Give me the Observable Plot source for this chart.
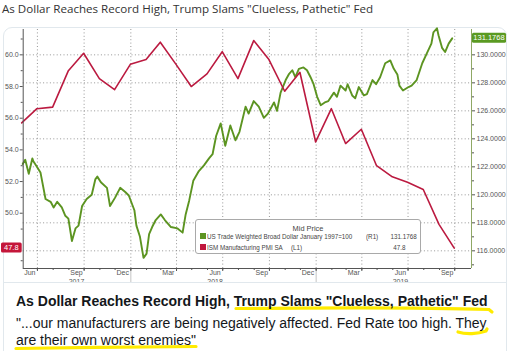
<!DOCTYPE html>
<html><head><meta charset="utf-8">
<script src="https://cdn.jsdelivr.net/npm/d3@7"></script>
<script src="https://cdn.jsdelivr.net/npm/@observablehq/plot@0.6"></script>
<style>
html,body{margin:0;padding:0;background:#fff;}
body{width:511px;height:351px;overflow:hidden;position:relative;font-family:"Liberation Sans",Arial,sans-serif;}
#title{position:absolute;left:2px;top:1px;font:11.6px "Open Sans","Noto Sans",sans-serif;color:#333;white-space:nowrap;}
#card{position:absolute;left:3px;top:27px;width:502px;height:340px;border:1px solid #e1e8ed;border-radius:9px;}
#sep{position:absolute;left:4px;top:282px;width:502px;height:1px;background:#e1e8ed;}
#chart{position:absolute;left:0;top:0;width:511px;height:282px;overflow:hidden;}
#legend{position:absolute;left:195px;top:219px;width:224px;height:33px;border:1px solid #a9a9a9;border-radius:3px;background:#fff;font:7.4px "Liberation Sans",Arial,sans-serif;color:#444;}
#legend span{position:absolute;white-space:nowrap;line-height:8px;transform:scaleX(0.85);transform-origin:left center;}
#legend span.r{transform-origin:right center;}
#legend span.c{transform:none;}
#legend i{position:absolute;width:6px;height:6px;}
#hl{position:absolute;left:0;top:0;}
#head{position:absolute;left:16px;top:293px;font:bold 14px "Liberation Sans",Arial,sans-serif;line-height:16px;color:#14171a;white-space:nowrap;}
#quote{position:absolute;left:16px;top:315px;font:14px "Liberation Sans",Arial,sans-serif;line-height:17px;color:#14171a;white-space:nowrap;}
</style></head>
<body>
<div id="title">As Dollar Reaches Record High, Trump Slams "Clueless, Pathetic" Fed</div>
<div id="card"></div>
<div id="chart"></div>
<div id="sep"></div>
<div id="legend">
  <span class="c" style="left:0;width:224px;text-align:center;top:5px">Mid Price</span>
  <i style="left:4px;top:13px;background:#5c9421"></i>
  <span style="left:11px;top:13px">US Trade Weighted Broad Dollar January 1997=100</span>
  <span style="left:170px;top:13px">(R1)</span>
  <span class="r" style="right:3px;top:13px">131.1768</span>
  <i style="left:4px;top:24px;background:#c0163c"></i>
  <span style="left:11px;top:24px">ISM Manufacturing PMI SA</span>
  <span style="left:95px;top:24px">(L1)</span>
  <span class="r" style="right:15px;top:24px">47.8</span>
</div>
<svg id="hl" width="511" height="351">
  <g fill="none" stroke="#ffeb00" stroke-width="3.2" stroke-linecap="round">
    <path d="M236,308.5 C330,307.5 430,307.5 489,309.5 L492,312"/>
    <path d="M458,332 C466,334.5 478,334 486,331 L487,329"/>
    <path d="M16,348.5 C70,347.5 150,347 196,346.5"/>
  </g>
</svg>
<div id="head">As Dollar Reaches Record High, <span>Trump Slams "Clueless, Pathetic" Fed</span></div>
<div id="quote">"...our manufacturers are being negatively affected. Fed Rate too high. They<br>are their own worst enemies"</div>
<script>
// ISM Manufacturing PMI SA (monthly, L1)
const pmiDates = ["2017-05-31","2017-06-30","2017-07-31","2017-08-31","2017-09-30","2017-10-31","2017-11-30","2017-12-31",
  "2018-01-31","2018-02-28","2018-03-31","2018-04-30","2018-05-31","2018-06-30","2018-07-31","2018-08-31","2018-09-30","2018-10-31","2018-11-30","2018-12-31",
  "2019-01-31","2019-02-28","2019-03-31","2019-04-30","2019-05-31","2019-06-30","2019-07-31","2019-08-31","2019-09-30"];
const pmiValues = [55.7,56.6,56.7,59.0,60.1,58.5,57.8,59.4,
  59.7,60.8,59.4,58.0,58.8,60.2,58.5,60.9,59.7,57.7,58.9,54.5,
  56.6,54.4,55.3,53.0,52.3,51.95,51.5,49.3,47.8];

// US Trade Weighted Broad Dollar, Jan 1997=100 (R1)
const usdDates = ["2017-06-02","2017-06-07","2017-06-14","2017-06-21","2017-06-23","2017-06-30","2017-07-07","2017-07-17","2017-07-27",
  "2017-08-02","2017-08-09","2017-08-18","2017-08-25","2017-08-31","2017-09-07","2017-09-14","2017-09-20","2017-09-27",
  "2017-10-06","2017-10-16","2017-10-23","2017-10-27","2017-11-03","2017-11-15","2017-11-21","2017-12-01","2017-12-11","2017-12-21","2017-12-28",
  "2018-01-08","2018-01-12","2018-01-19","2018-01-26","2018-02-01","2018-02-06","2018-02-12","2018-02-19","2018-03-01","2018-03-09","2018-03-21",
  "2018-04-03","2018-04-13","2018-04-19","2018-04-26","2018-05-04","2018-05-15","2018-05-25","2018-06-04","2018-06-11","2018-06-18","2018-06-27",
  "2018-07-06","2018-07-16","2018-07-26","2018-08-03","2018-08-15","2018-08-21","2018-08-31","2018-09-10","2018-09-20","2018-09-28",
  "2018-10-10","2018-10-16","2018-10-23","2018-11-02","2018-11-08","2018-11-15","2018-11-21","2018-11-28","2018-12-07","2018-12-14","2018-12-21","2018-12-27",
  "2019-01-03","2019-01-10","2019-01-18","2019-01-25","2019-02-05","2019-02-11","2019-02-18","2019-02-28","2019-03-04","2019-03-13","2019-03-19","2019-03-26",
  "2019-04-05","2019-04-11","2019-04-22","2019-04-29","2019-05-07","2019-05-17","2019-05-27","2019-06-03","2019-06-10","2019-06-14","2019-06-21",
  "2019-07-02","2019-07-08","2019-07-18","2019-07-29","2019-08-07","2019-08-16","2019-08-20","2019-08-27","2019-08-30","2019-09-06","2019-09-12","2019-09-19","2019-09-26"];
const usdValues = [122.2,122.5,121.5,122.6,122.4,122.0,121.6,119.7,119.5,
  119.1,119.5,119.1,118.5,118.3,116.7,117.6,117.8,119.2,
  119.7,120.0,121.1,121.3,120.9,120.5,119.2,119.8,120.5,120.2,119.95,
  118.9,117.8,117.0,115.5,115.8,117.2,117.7,118.2,118.6,118.2,117.7,
  117.6,117.3,118.6,119.6,121.0,121.7,122.1,122.6,122.9,124.2,125.1,
  123.5,124.95,123.9,124.5,126.3,125.8,126.7,126.3,125.5,125.8,
  126.6,126.0,127.3,128.2,128.6,128.9,128.4,129.0,129.1,128.9,128.4,127.9,
  127.0,126.4,126.6,126.7,127.3,127.0,127.8,127.45,127.9,127.1,126.9,127.7,
  127.1,127.2,128.2,127.9,128.4,129.4,129.6,129.0,128.6,127.8,127.45,
  127.7,127.8,128.2,129.4,130.1,130.8,131.6,131.9,131.4,130.5,130.2,130.8,131.1768];

// tick values
const leftTicks = [50, 52, 54, 56, 58, 60];
const leftMinor = [47, 49, 51, 53, 55, 57, 59, 61];
const rightTicks = [116, 118, 120, 122, 124, 126, 128, 130];
const rightMinor = [115, 117, 119, 121, 123, 125, 127, 129, 131];
const monthLabels = ["2017-06-16","2017-09-16","2017-12-16","2018-03-16","2018-06-16","2018-09-16","2018-12-16","2019-03-16","2019-06-16","2019-09-16"];
const yearLabels = [["2017-09-16","2017"],["2018-06-16","2018"],["2019-06-16","2019"]];
const lastUsd = 131.1768, lastPmi = 47.8;

const P = d3.utcParse("%Y-%m-%d");
const pmi = pmiDates.map((d, i) => ({date: P(d), v: pmiValues[i]}));
const usd = usdDates.map((d, i) => ({date: P(d), v: usdValues[i]}));

// right axis (dollar) mapped onto the left (PMI) scale
const k = 14.0 / 15.84;
const toL = u => 60 - (130 - u) * k;
const toR = v => 130 - (60 - v) / k;

const xDomain = [P("2017-06-03"), P("2019-11-03")];
const yDomain = [46.51, 61.6];
const months = d3.utcMonth.range(P("2017-07-01"), P("2019-11-01"));
const quarters = d3.utcMonth.every(3).range(P("2017-07-01"), P("2019-10-02"));
const years = [P("2018-01-01"), P("2019-01-01")];

const red = "#bb1a40", green = "#5c9421";

const plot = Plot.plot({
  width: 511, height: 282,
  marginLeft: 22.7, marginRight: 40, marginTop: 29, marginBottom: 14,
  x: {type: "utc", domain: xDomain},
  y: {domain: yDomain},
  style: {fontFamily: "'Liberation Sans',Arial,sans-serif", fontSize: "7px", color: "#555", background: "transparent", overflow: "visible"},
  marks: [
    Plot.gridY(rightTicks.map(toL), {stroke: "#8c8c8c", strokeOpacity: 0.9, strokeDasharray: "1,2.4"}),
    Plot.gridX(quarters, {stroke: "#8c8c8c", strokeOpacity: 0.9, strokeDasharray: "1,2.4"}),
    Plot.line(usd, {x: "date", y: d => toL(d.v), stroke: green, strokeWidth: 1.9}),
    Plot.line(pmi, {x: "date", y: "v", stroke: red, strokeWidth: 1.6}),
    Plot.ruleX([xDomain[0]], {stroke: "#555", strokeWidth: 1}),
    Plot.ruleX([xDomain[1]], {stroke: "#8fa865", strokeWidth: 1}),
    Plot.ruleY([yDomain[0]], {stroke: "#555", strokeWidth: 1}),
    Plot.axisY(leftTicks, {anchor: "left", tickSize: 3, tickPadding: 1.5, tickFormat: d3.format(".1f"), label: null}),
    Plot.axisY(leftMinor, {anchor: "left", tickSize: 2, tickFormat: () => "", label: null}),
    Plot.axisY(rightTicks.map(toL), {anchor: "right", tickSize: 3, tickPadding: 2, tickFormat: d => toR(d).toFixed(4), label: null}),
    Plot.axisY(rightMinor.map(toL), {anchor: "right", tickSize: 2, tickFormat: () => "", label: null}),
    Plot.axisX(months, {anchor: "bottom", tickSize: 2, tickFormat: () => "", label: null}),
    Plot.axisX(quarters, {anchor: "bottom", tickSize: 3, tickFormat: () => "", label: null}),
    Plot.axisX(years, {anchor: "bottom", tickSize: 14, tickFormat: () => "", strokeOpacity: 0.35, label: null}),
    Plot.axisX(monthLabels.map(P), {anchor: "bottom", tickSize: 0, tickPadding: 1.5, tickFormat: d3.utcFormat("%b"), label: null}),
    Plot.axisX(yearLabels.map(d => P(d[0])), {anchor: "bottom", tickSize: 0, tickPadding: 10.5, tickFormat: d3.utcFormat("%Y"), label: null})
  ]
});
document.getElementById("chart").append(plot);

// last-value tags on each axis
const ys = plot.scale("y"), xs = plot.scale("x");
const svg = d3.select(plot);
const tag = (x0, x1, v, txt, col) => {
  const yy = ys.apply(v);
  svg.append("rect").attr("x", x0).attr("y", yy - 5).attr("width", x1 - x0).attr("height", 10).attr("rx", 1.5).attr("fill", col);
  svg.append("text").attr("x", (x0 + x1) / 2).attr("y", yy).attr("dy", "0.35em").attr("text-anchor", "middle")
    .attr("fill", "#fff").attr("font-size", 7.5).text(txt);
};
const xl = xs.apply(xDomain[0]), xr = xs.apply(xDomain[1]);
tag(1, xl - 1, lastPmi, String(lastPmi), "#c4163a");
tag(xr + 1, xr + 35, toL(lastUsd), lastUsd.toFixed(4), "#5a9a22");
</script>
</body></html>
